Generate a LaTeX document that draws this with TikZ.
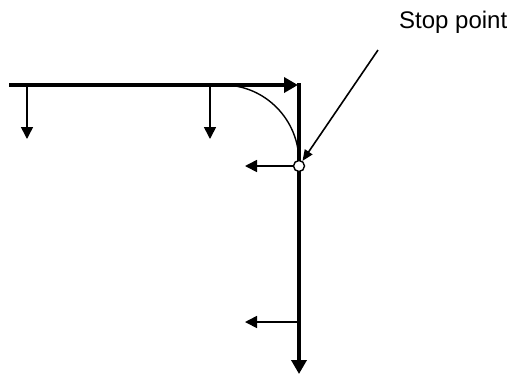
\documentclass[tikz,border=0pt]{standalone}
\usepackage{fontspec}
\setmainfont{Liberation Sans}
\usetikzlibrary{positioning,arrows.meta}

\begin{document}
\begin{tikzpicture}[x=1pt, y=-1pt,
  path/.style={line width=4pt, -{Triangle[length=14pt, width=15pt]}},
  force/.style={line width=1.6pt, -{Triangle[length=12pt, width=12pt]}},
  leader/.style={line width=1.6pt, -{Triangle[length=11pt, width=9pt]}},
  stopmark/.style={circle, draw, line width=1.4pt, fill=white,
                   inner sep=0pt, minimum size=11pt},
  lbl/.style={font=\fontsize{24}{28}\selectfont, inner sep=0pt},
]
  \useasboundingbox (0,0) rectangle (513,376);

  % tool path
  \coordinate (start) at (9,85);
  \coordinate (cornerin) at (298,85);
  \coordinate (corner) at (299,83);
  \coordinate (finish) at (299,374);
  \coordinate (arcstart) at (223,85);

  \draw[line width=1.4pt] (arcstart) arc[start angle=270, end angle=360,
    x radius=76, y radius=77];

  \draw[path] (start) -- (cornerin);
  \draw[path] (corner) -- (finish);

  % stop point
  \node[stopmark] (stop) at (299,166) {};
  \node[lbl, anchor=base west] (stoplbl) at (399,28) {Stop point};
  \coordinate (leaderend) at (378,50);
  \draw[leader] (leaderend) -- (stop);

  % forces
  \coordinate (f1a) at (27,85);   \coordinate (f1b) at (27,139);
  \coordinate (f2a) at (210,85);  \coordinate (f2b) at (210,139);
  \coordinate (f3b) at (245,166);
  \coordinate (f4a) at (299,322); \coordinate (f4b) at (245,322);

  \draw[force] (f1a) -- (f1b);
  \draw[force] (f2a) -- (f2b);
  \draw[force] (stop.west) -- (f3b);
  \draw[force] (f4a) -- (f4b);
\end{tikzpicture}
\end{document}
